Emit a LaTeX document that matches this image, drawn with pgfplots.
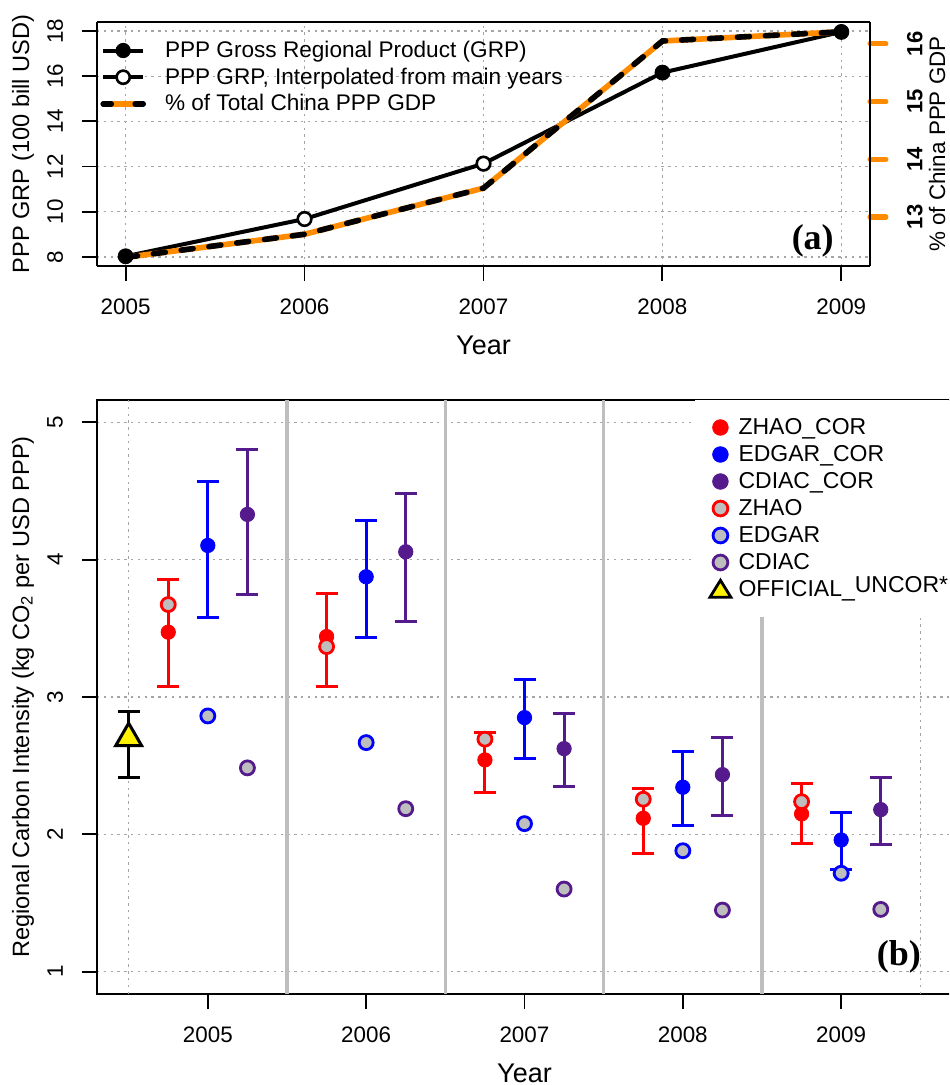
\documentclass[border=0pt]{standalone}
\usepackage{fontspec}
\setmainfont{Liberation Sans}
\newfontfamily\tnr{Liberation Serif}
\usepackage{pgfplots}
\pgfplotsset{compat=1.18}

\definecolor{rorange}{RGB}{255,140,0}
\definecolor{rpurple}{RGB}{85,26,139}
\definecolor{rgray}{RGB}{190,190,190}
\definecolor{gridgray}{RGB}{165,165,165}

\tikzset{dotgrid/.style={gridgray, line width=0.6pt, dash pattern=on 1.2pt off 2.2pt}}

\pgfplotsset{
  rstyle/.style={
    scale only axis,
    axis line style={line width=0.9pt},
    every tick/.style={black, line width=0.9pt},
    tick align=outside,
    major tick length=7.5pt,
    xtick pos=left, ytick pos=left,
    /pgf/number format/assume math mode=true,
    /pgf/number format/1000 sep={},
    tick label style={font=\fontsize{11.2}{13}\selectfont},
    xticklabel style={anchor=center, yshift=-13pt},
    every axis x label/.style={at={(rel axis cs:0.5,0)}, anchor=center,
      yshift=-39.5pt, font=\fontsize{13.5}{15}\selectfont},
    every axis y label/.style={at={(rel axis cs:0,0.5)}, anchor=center,
      xshift=-37pt, rotate=90, font=\fontsize{11.8}{13}\selectfont},
    major grid style={dotgrid},
  },
  cor/.style={only marks, mark=*, mark size=3.6pt, color=#1, forget plot,
    error bars/.cd, y dir=both, y explicit,
    error bar style={line width=1.5pt, #1},
    error mark options={rotate=90, mark size=5.5pt, line width=1.5pt, #1}},
  opn/.style={only marks, mark=*, mark size=3.5pt, forget plot,
    mark options={fill=rgray, draw=#1, line width=1.4pt}},
}

\begin{document}
\begin{tikzpicture}
\useasboundingbox (-48.5pt,-45.5pt) rectangle (426pt,497pt);
\clip (-48.5pt,-45.5pt) rectangle (426pt,497pt);

% ---- panel (a): GRP, left axis
\begin{axis}[rstyle, at={(0pt,364pt)}, anchor=south west,
  width=386.5pt, height=122pt,
  xmin=2004.84, xmax=2009.16, ymin=7.6, ymax=18.4,
  axis y line*=left,
  xtick={2005,...,2009}, ytick={8,10,...,18},
  yticklabel style={anchor=center, xshift=-13.5pt, rotate=90},
  grid=major,
  xlabel={Year}, ylabel={PPP GRP (100 bill USD)}]
\addplot[black, line width=2pt] coordinates {
  (2005,8.03) (2006,9.68) (2007,12.13) (2008,16.16) (2009,17.96)};
\end{axis}

% ---- panel (a): share of China GDP, right axis
\begin{axis}[scale only axis, at={(0pt,364pt)}, anchor=south west,
  width=386.5pt, height=122pt,
  xmin=2004.84, xmax=2009.16, ymin=12.15, ymax=16.38,
  axis x line=none, axis y line*=right,
  axis line style={line width=0.9pt},
  every tick/.style={rorange, line width=2.6pt, line cap=round},
  tick align=outside, major tick length=8pt,
  ytick={13,14,15,16},
  /pgf/number format/assume math mode=true,
  yticklabel style={anchor=center, xshift=14.5pt, rotate=90,
    font=\bfseries\fontsize{11}{13}\selectfont},
  every axis y label/.style={at={(rel axis cs:1,0.5)}, anchor=center,
    xshift=33.5pt, rotate=90, font=\fontsize{11.2}{13}\selectfont},
  ylabel={\% of China PPP GDP}]
\addplot[rorange, line width=2.8pt] coordinates {
  (2005,12.30) (2006,12.70) (2007,13.50) (2008,16.05) (2009,16.21)};
\addplot[black, line width=2.8pt, line cap=round, dash pattern=on 6pt off 8pt] coordinates {
  (2005,12.30) (2006,12.70) (2007,13.50) (2008,16.05) (2009,16.21)};
\end{axis}

% ---- panel (a): markers and legend on top
\begin{axis}[scale only axis, at={(0pt,364pt)}, anchor=south west,
  width=386.5pt, height=122pt,
  xmin=2004.84, xmax=2009.16, ymin=7.6, ymax=18.4,
  hide axis, clip=false,
  legend cell align=left,
  legend style={at={(rel axis cs:0,1)}, anchor=north west, xshift=1.5pt,
    draw=none, fill=none, inner xsep=0pt, inner ysep=7.4pt,
    row sep=0pt, font=\fontsize{11.3}{13}\selectfont,
    nodes={text height=9.1pt, text depth=2.25pt, inner ysep=1pt}}]
\addplot[only marks, mark=*, mark size=3.75pt, black, forget plot] coordinates {
  (2005,8.03) (2008,16.16) (2009,17.96)};
\addplot[only marks, mark=*, mark size=3.4pt,
  mark options={fill=white, draw=black, line width=1.3pt}, forget plot] coordinates {
  (2006,9.68) (2007,12.13)};
\addlegendimage{legend image code/.code={
  \draw[black, line width=2pt] (0pt,0pt) -- (20pt,0pt);
  \fill[black] (10pt,0pt) circle[radius=3.6pt];
  \path (28.7pt,0pt);}}
\addlegendentry{PPP Gross Regional Product (GRP)}
\addlegendimage{legend image code/.code={
  \draw[black, line width=2pt] (0pt,0pt) -- (20pt,0pt);
  \draw[black, fill=white, line width=1.3pt] (10pt,0pt) circle[radius=3.3pt];
  \path (28.7pt,0pt);}}
\addlegendentry{PPP GRP, Interpolated from main years}
\addlegendimage{legend image code/.code={
  \draw[rorange, line width=2.8pt] (0pt,0pt) -- (20pt,0pt);
  \draw[black, line width=2.8pt, line cap=round, dash pattern=on 4pt off 12pt] (0pt,0pt) -- (20pt,0pt);
  \path (28.7pt,0pt);}}
\addlegendentry{\% of Total China PPP GDP}
\node[font=\tnr\bfseries\fontsize{18}{20}\selectfont] at (axis cs:2008.84,8.71) {(a)};
\end{axis}

% ---- panel (b)
\begin{axis}[rstyle, at={(0pt,0pt)}, anchor=south west,
  width=427.5pt, height=297pt,
  xmin=2004.3, xmax=2009.7, ymin=0.838, ymax=5.162,
  xtick={2005,...,2009}, ytick={1,...,5},
  yticklabel style={anchor=center, xshift=-13.5pt, rotate=90},
  ymajorgrids,
  xlabel={Year},
  ylabel={Regional Carbon Intensity (kg CO\textsubscript{2} per USD PPP)},
  legend cell align=left,
  legend style={at={(rel axis cs:0.697,1)}, anchor=north west, xshift=1pt,
    draw=none, fill=white, inner xsep=0pt, inner ysep=6.8pt,
    row sep=0pt, font=\fontsize{11.5}{13}\selectfont,
    nodes={text height=9.1pt, text depth=2.4pt, inner ysep=1pt}}]
\pgfplotsinvokeforeach{2004.5,2009.5}{
  \draw[dotgrid] (axis cs:#1,0.838) -- (axis cs:#1,5.162);}
\pgfplotsinvokeforeach{2005.5,2006.5,2007.5,2008.5}{
  \draw[rgray, line width=1.6pt] (axis cs:#1,0.838) -- (axis cs:#1,5.162);}

% official (uncorrected)
\addplot[only marks, mark=triangle*, mark size=7.5pt, black, forget plot,
  mark options={fill=yellow, draw=black, line width=1.5pt},
  error bars/.cd, y dir=both, y explicit,
  error bar style={line width=1.5pt, black},
  error mark options={rotate=90, mark size=5.5pt, line width=1.5pt, black},
  ] coordinates {(2004.5,2.70) += (0,0.194) -= (0,0.289)};

% corrected estimates with ranges
\addplot[cor=red] coordinates {
  (2004.75,3.472) += (0,0.381) -= (0,0.398)
  (2005.75,3.440) += (0,0.313) -= (0,0.366)
  (2006.75,2.542) += (0,0.202) -= (0,0.240)
  (2007.75,2.117) += (0,0.214) -= (0,0.258)
  (2008.75,2.149) += (0,0.220) -= (0,0.214)};
\addplot[cor=blue] coordinates {
  (2005,4.103) += (0,0.469) -= (0,0.525)
  (2006,3.875) += (0,0.413) -= (0,0.439)
  (2007,2.850) += (0,0.275) -= (0,0.296)
  (2008,2.343) += (0,0.259) -= (0,0.282)
  (2009,1.959) += (0,0.199) -= (0,0.213)};
\addplot[cor=rpurple] coordinates {
  (2005.25,4.329) += (0,0.476) -= (0,0.585)
  (2006.25,4.057) += (0,0.422) -= (0,0.505)
  (2007.25,2.624) += (0,0.258) -= (0,0.279)
  (2008.25,2.435) += (0,0.269) -= (0,0.296)
  (2009.25,2.180) += (0,0.231) -= (0,0.257)};

% uncorrected inventories
\addplot[opn=red] coordinates {
  (2004.75,3.673) (2005.75,3.367) (2006.75,2.693) (2007.75,2.256) (2008.75,2.238)};
\addplot[opn=blue] coordinates {
  (2005,2.862) (2006,2.668) (2007,2.078) (2008,1.881) (2009,1.717)};
\addplot[opn=rpurple] coordinates {
  (2005.25,2.484) (2006.25,2.187) (2007.25,1.602) (2008.25,1.449) (2009.25,1.454)};

\addlegendimage{legend image code/.code={\path (0pt,0pt) (19.2pt,0pt);
  \fill[red] (12.35pt,0pt) circle[radius=3.9pt];}}
\addlegendentry{ZHAO\_COR}
\addlegendimage{legend image code/.code={\path (0pt,0pt) (19.2pt,0pt);
  \fill[blue] (12.35pt,0pt) circle[radius=3.9pt];}}
\addlegendentry{EDGAR\_COR}
\addlegendimage{legend image code/.code={\path (0pt,0pt) (19.2pt,0pt);
  \fill[rpurple] (12.35pt,0pt) circle[radius=3.9pt];}}
\addlegendentry{CDIAC\_COR}
\addlegendimage{legend image code/.code={\path (0pt,0pt) (19.2pt,0pt);
  \draw[red, fill=rgray, line width=1.4pt] (12.35pt,0pt) circle[radius=3.7pt];}}
\addlegendentry{ZHAO}
\addlegendimage{legend image code/.code={\path (0pt,0pt) (19.2pt,0pt);
  \draw[blue, fill=rgray, line width=1.4pt] (12.35pt,0pt) circle[radius=3.7pt];}}
\addlegendentry{EDGAR}
\addlegendimage{legend image code/.code={\path (0pt,0pt) (19.2pt,0pt);
  \draw[rpurple, fill=rgray, line width=1.4pt] (12.35pt,0pt) circle[radius=3.7pt];}}
\addlegendentry{CDIAC}
\addlegendimage{legend image code/.code={\path (0pt,0pt) (19.2pt,0pt);
  \draw[black, fill=yellow, line width=1.4pt, line join=miter]
    (12.35pt,4.6pt) -- (17.6pt,-3.9pt) -- (7.1pt,-3.9pt) -- cycle;}}
\addlegendentry{OFFICIAL\_\raisebox{2pt}{UNCOR*}}

\node[font=\tnr\bfseries\fontsize{18}{20}\selectfont] at (axis cs:2009.365,1.107) {(b)};
\end{axis}
\end{tikzpicture}
\end{document}
